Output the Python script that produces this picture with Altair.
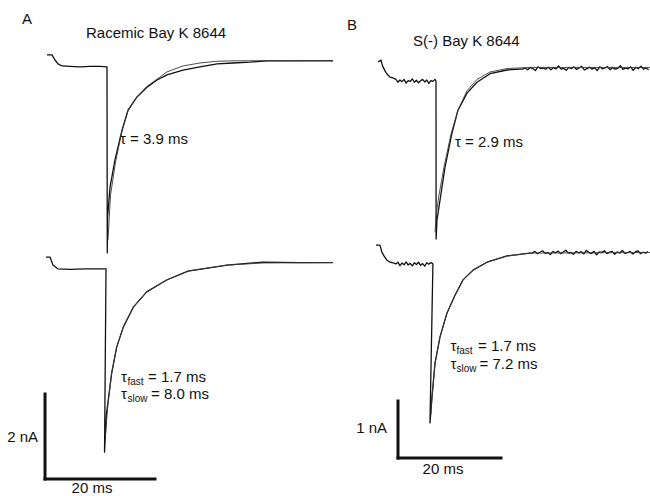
import altair as alt
import pandas as pd

# ---------------- data (time in ms from repolarisation, current in nA) ----------------
# Panel A: racemic Bay K 8644
A_top_t = [-10.91, -10.0, -9.45, -8.91, -8.18, -6.73, -4.91, -3.09, -1.27, 0.0,
           0.05, 0.11, 0.55, 1.45, 2.73, 3.82, 5.45, 7.27, 9.09, 10.91,
           13.82, 16.91, 20.0, 22.91, 26.0, 29.09, 35.09, 41.09]
A_top_I = [0.12, 0.12, 0.0, -0.09, -0.14, -0.15, -0.16, -0.15, -0.15, -0.16,
           -4.54, -3.69, -2.99, -2.35, -1.65, -1.18, -0.87, -0.64, -0.47, -0.35,
           -0.24, -0.16, -0.09, -0.07, -0.05, -0.02, -0.02, -0.02]
A_top_fit_t = [0.18, 0.64, 1.55, 2.73, 3.82, 5.45, 7.27, 9.09, 10.91, 13.82, 16.91, 20.0, 22.91, 41.09]
A_top_fit_I = [-4.24, -3.18, -2.40, -1.67, -1.20, -0.87, -0.62, -0.45, -0.28, -0.14, -0.07, -0.03, -0.02, -0.01]

A_bot_t = [-11.09, -10.36, -9.82, -8.91, -6.73, -4.0, -1.27, -0.18, -0.45, -0.09, 0.24,
           0.85, 1.76, 2.96, 4.78, 7.22, 10.85, 14.73, 21.82, 28.36, 35.09, 41.09]
A_bot_I = [0.14, 0.14, -0.05, -0.14, -0.15, -0.14, -0.14, -0.14, -4.45, -3.53, -3.22,
           -2.59, -1.98, -1.51, -1.04, -0.68, -0.40, -0.19, -0.05, 0.02, 0.01, 0.01]
A_bot_fit_t = [-0.3, 0.24, 0.85, 1.76, 2.96, 4.78, 7.22, 10.85, 14.73, 21.82, 28.36, 41.09]
A_bot_fit_I = [-4.07, -3.22, -2.59, -1.98, -1.51, -1.04, -0.68, -0.40, -0.19, -0.05, 0.0, 0.01]

# Panel B: S(-) Bay K 8644 (noisy recordings)
B_top_t = ([-11.26, -10.68, -10.49, -10.29, -9.90, -9.51, -8.93, -8.35, -7.77]
           + [-7.4, -7.0, -6.6, -6.2, -5.8, -5.4, -5.0, -4.6, -4.2, -3.8, -3.4, -3.0, -2.6,
              -2.2, -1.8, -1.4, -1.0, -0.6, -0.2, 0.0]
           + [0.02, 0.19, 0.78, 1.75, 3.11, 4.27, 6.02, 7.96, 10.49, 13.79, 16.3]
           + [16.8, 17.3, 17.8, 18.3, 18.8, 19.3, 19.8, 20.3, 20.8, 21.3, 21.8, 22.3, 22.8,
              23.3, 23.8, 24.3, 24.8, 25.3, 25.8, 26.3, 26.8, 27.3, 27.8, 28.3, 28.8, 29.3,
              29.8, 30.3, 30.8, 31.3, 31.8, 32.3, 32.8, 33.3, 33.8, 34.3, 34.8, 35.3, 35.8,
              36.3, 36.8, 37.3, 37.8, 38.3, 38.8, 39.3, 39.8, 40.3, 40.8, 41.3])
B_top_I = ([0.105, 0.14, 0.07, 0.02, -0.05, -0.105, -0.16, -0.175, -0.2]
           + [-0.25, -0.21, -0.24, -0.2, -0.265, -0.22, -0.235, -0.19, -0.25, -0.215, -0.26,
              -0.225, -0.2, -0.245, -0.21, -0.27, -0.22, -0.235, -0.2, -0.23]
           + [-3.0, -2.67, -2.32, -1.74, -1.14, -0.74, -0.44, -0.25, -0.10, -0.035, -0.02]
           + [-0.02, 0.0, -0.03, 0.01, -0.01, -0.045, 0.02, -0.01, 0.0, -0.02,
              0.015, -0.03, 0.005, -0.015, 0.035, -0.02, -0.005, -0.04, 0.01, -0.01,
              0.02, -0.025, 0.0, 0.03, -0.035, -0.01, 0.015, -0.02, 0.005, -0.045,
              0.02, -0.015, 0.0, 0.025, -0.03, 0.01, -0.02, -0.005, 0.04, -0.025,
              0.0, -0.015, 0.02, -0.04, 0.01, -0.01, 0.03, -0.02, 0.0, -0.03])
B_top_fit_t = [-0.19, 0.1, 0.58, 1.55, 2.91, 4.27, 6.02, 7.96, 10.49, 13.79, 18.25, 41.55]
B_top_fit_I = [-2.88, -2.53, -2.23, -1.74, -1.16, -0.74, -0.40, -0.20, -0.07, -0.01, 0.01, 0.01]

B_bot_t = ([-11.65, -10.87, -10.54, -10.10, -9.57, -8.93, -8.35]
           + [-7.8, -7.4, -7.0, -6.6, -6.2, -5.8, -5.4, -5.0, -4.6, -4.2, -3.8, -3.4, -3.0,
              -2.6, -2.2, -1.8, -1.4, -1.0, -0.6]
           + [-1.17, -0.78, -0.19, 0.78, 2.14, 3.69, 5.24, 7.18, 9.9, 13.79, 18.25]
           + [18.7, 19.2, 19.7, 20.2, 20.7, 21.2, 21.7, 22.2, 22.7, 23.2, 23.7, 24.2, 24.7,
              25.2, 25.7, 26.2, 26.7, 27.2, 27.7, 28.2, 28.7, 29.2, 29.7, 30.2, 30.7, 31.2,
              31.7, 32.2, 32.7, 33.2, 33.7, 34.2, 34.7, 35.2, 35.7, 36.2, 36.7, 37.2, 37.7,
              38.2, 38.7, 39.2, 39.7, 40.2, 40.7, 41.2])
B_bot_I = ([0.13, 0.13, 0.01, -0.06, -0.13, -0.17, -0.18]
           + [-0.2, -0.17, -0.23, -0.185, -0.215, -0.165, -0.22, -0.19, -0.235, -0.18, -0.21,
              -0.17, -0.225, -0.195, -0.24, -0.18, -0.205, -0.175, -0.2]
           + [-2.99, -2.54, -1.94, -1.48, -1.06, -0.75, -0.48, -0.31, -0.17, -0.06, -0.01]
           + [-0.01, 0.02, -0.02, 0.005, 0.03, -0.015, 0.0, -0.035, 0.015, -0.005,
              0.025, -0.02, 0.01, 0.04, -0.01, 0.0, -0.03, 0.02, -0.005, 0.015,
              -0.025, 0.035, 0.0, -0.015, 0.02, -0.04, 0.01, 0.0, 0.03, -0.02,
              0.005, 0.02, -0.03, 0.01, -0.01, 0.035, -0.015, 0.0, 0.02, -0.025,
              0.01, 0.03, -0.02, 0.005, -0.01, 0.015])
B_bot_fit_t = [-1.0, -0.78, -0.19, 0.78, 2.14, 3.69, 5.24, 7.18, 9.9, 13.79, 18.25, 41.55]
B_bot_fit_I = [-2.85, -2.54, -1.94, -1.48, -1.06, -0.75, -0.48, -0.31, -0.17, -0.06, -0.01, 0.0]

# scale bars (ms, nA)
A_bar_ms, A_bar_nA = 20, 2
B_bar_ms, B_bar_nA = 20, 1

FONT = "Liberation Sans"
INK = "#111111"
FS = 15
SUB = 10


def series(trace, kind, ts, Is):
    return pd.DataFrame({"trace": trace, "kind": kind, "series": trace + "-" + kind,
                         "t": ts, "I": Is, "i": list(range(len(ts)))})


def label(txt, px, py, size=FS, align="left", baseline="middle"):
    return alt.Chart(alt.Data(values=[{}])).mark_text(
        text=txt, font=FONT, fontSize=size, color=INK, align=align, baseline=baseline
    ).encode(x=alt.value(px), y=alt.value(py))


def panel(frames, offset, xdom, ydom, bar_t0, bar_I0, bar_ms, bar_nA, width, texts, data_w):
    df = pd.concat(frames, ignore_index=True)
    xs = alt.Scale(domain=xdom, nice=False, zero=False)
    ys = alt.Scale(domain=ydom, nice=False, zero=False)
    lines = alt.Chart(df).transform_calculate(
        y=f"datum.trace == 'bottom' ? datum.I + ({offset}) : datum.I"
    ).mark_line(clip=True, strokeJoin="round").encode(
        x=alt.X("t:Q", scale=xs, axis=None),
        y=alt.Y("y:Q", scale=ys, axis=None),
        detail="series:N",
        order="i:Q",
        color=alt.Color("kind:N", scale=alt.Scale(domain=["data", "fit"], range=[INK, "#3a3a3a"]), legend=None),
        strokeWidth=alt.StrokeWidth("kind:N", scale=alt.Scale(domain=["data", "fit"], range=[data_w, 0.9]), legend=None),
    )
    bar = pd.DataFrame({"t0": [bar_t0], "t1": [bar_t0 + bar_ms], "I0": [bar_I0], "I1": [bar_I0 + bar_nA]})
    vbar = alt.Chart(bar).mark_rule(strokeWidth=3, color=INK, strokeCap="square").encode(
        x=alt.X("t0:Q", scale=xs, axis=None), y=alt.Y("I0:Q", scale=ys, axis=None), y2="I1:Q")
    hbar = alt.Chart(bar).mark_rule(strokeWidth=3, color=INK, strokeCap="square").encode(
        x=alt.X("t0:Q", scale=xs, axis=None), x2="t1:Q", y=alt.Y("I0:Q", scale=ys, axis=None))
    return alt.layer(lines, vbar, hbar, *texts).properties(width=width, height=496)


panelA = panel(
    [series("top", "data", A_top_t, A_top_I), series("top", "fit", A_top_fit_t, A_top_fit_I),
     series("bottom", "data", A_bot_t, A_bot_I), series("bottom", "fit", A_bot_fit_t, A_bot_fit_I)],
    -4.776, [-19.4545, 41.4545], [-10.2588, 1.4118], -11.27, -9.8588, A_bar_ms, A_bar_nA, 335,
    [
        label("A", 27, 19, align="center"),
        label("Racemic Bay K 8644", 86, 32.5),
        label("τ = 3.9 ms", 120, 139),
        label("τ", 121, 377), label("fast", 127.5, 382, size=SUB), label("= 1.7 ms", 148, 377),
        label("τ", 121, 394), label("slow", 127.5, 399, size=SUB), label("= 8.0 ms", 151, 394),
        label("2 nA", 38, 437, align="right"),
        label("20 ms", 92, 488, align="center"),
    ],
    1.3,
)

panelB = panel(
    [series("top", "data", B_top_t, B_top_I), series("top", "fit", B_top_fit_t, B_top_fit_I),
     series("bottom", "data", B_bot_t, B_bot_I), series("bottom", "fit", B_bot_fit_t, B_bot_fit_I)],
    -3.237, [-19.612, 41.553], [-7.5088, 1.193], -7.379, -6.842, B_bar_ms, B_bar_nA, 315,
    [
        label("B", 17, 24.5, align="center"),
        label("S(-) Bay K 8644", 78, 41),
        label("τ = 2.9 ms", 120, 141.5),
        label("τ", 115.5, 346), label("fast", 121.5, 351, size=SUB), label("= 1.7 ms", 143, 346),
        label("τ", 115.5, 364), label("slow", 121.5, 369, size=SUB), label("= 7.2 ms", 144.5, 364),
        label("1 nA", 52, 428, align="right"),
        label("20 ms", 108, 469, align="center"),
    ],
    1.4,
)

chart = alt.hconcat(panelA, panelB, spacing=0).properties(
    padding=0, background="white"
).configure_view(stroke=None)

chart.save("out.html", embed_options={"renderer": "svg", "actions": False})
